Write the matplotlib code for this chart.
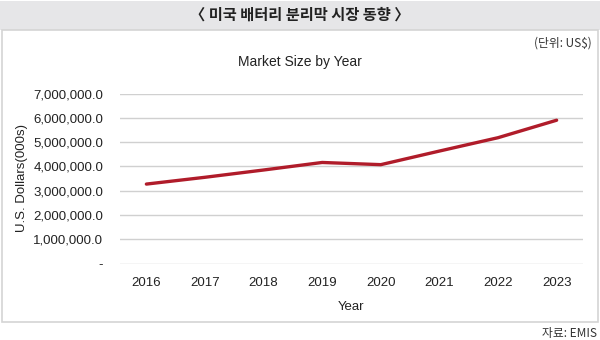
import matplotlib.pyplot as plt
from matplotlib.patches import Rectangle
from matplotlib.ticker import FuncFormatter

plt.rcParams['font.family'] = ['Liberation Sans', 'Noto Sans CJK KR', 'DejaVu Sans']

# 연도별 시장 규모 (US$ 천 단위)
years = ["2016", "2017", "2018", "2019", "2020", "2021", "2022", "2023"]
market_size = [3270000, 3550000, 3850000, 4160000, 4070000, 4630000, 5180000, 5900000]
yticks = [0, 1000000, 2000000, 3000000, 4000000, 5000000, 6000000, 7000000]

kr = ['Noto Sans CJK KR', 'DejaVu Sans']

fig = plt.figure(figsize=(6, 3.4), dpi=100)

# 상단 제목 띠와 차트 테두리
fig.patches.append(Rectangle((0, 1 - 30 / 340), 1, 29 / 340, transform=fig.transFigure,
                             facecolor="#e6e6e8", edgecolor="none", zorder=-2))
fig.patches.append(Rectangle((2 / 600, 1 - 322 / 340), 596 / 600, 292 / 340,
                             transform=fig.transFigure, facecolor="white",
                             edgecolor="#d4d4d4", linewidth=1.2, zorder=-1))
fig.text(0.5, 1 - 15 / 340, "〈 미국 배터리 분리막 시장 동향 〉", ha="center", va="center",
         fontsize=11, fontweight="bold", color="#222222", family=kr)
fig.text(592 / 600, 1 - 43 / 340, "(단위: US$)", ha="right", va="center",
         fontsize=8.5, color="#333333", family=kr)
fig.text(597 / 600, 1 - 333 / 340, "자료: EMIS", ha="right", va="center",
         fontsize=8.5, color="#333333", family=kr)
fig.text(0.5, 1 - 62 / 340, "Market Size by Year", ha="center", va="center",
         fontsize=10, color="#222222")

ax = fig.add_axes([120 / 600, 1 - 263.5 / 340, 463 / 600, 170 / 340])
ax.set_zorder(1)
ax.patch.set_visible(False)
x = list(range(len(years)))
ax.plot(x, market_size, color="#b01c2a", linewidth=2.4, solid_capstyle="round")

ax.set_xlim(-0.45, len(years) - 0.55)
ax.set_ylim(0, 7000000)
ax.set_xticks(x)
ax.set_xticklabels(years)
ax.set_yticks(yticks)
ax.yaxis.set_major_formatter(FuncFormatter(lambda v, p: "-" if v == 0 else f"{v:,.1f}"))
ax.grid(axis="y", color="#d0d0d0", linewidth=1)
ax.set_axisbelow(True)
for s in ax.spines.values():
    s.set_visible(False)
ax.tick_params(length=0, labelsize=9.5, labelcolor="#222222")
ax.tick_params(axis="x", pad=10)
ax.tick_params(axis="y", pad=12)

ax.set_xlabel("Year", fontsize=9.5, color="#222222", labelpad=8)
ax.set_ylabel("U.S. Dollars(000s)", fontsize=9.5, color="#222222", labelpad=4)

fig.savefig("out.png", dpi=100)
